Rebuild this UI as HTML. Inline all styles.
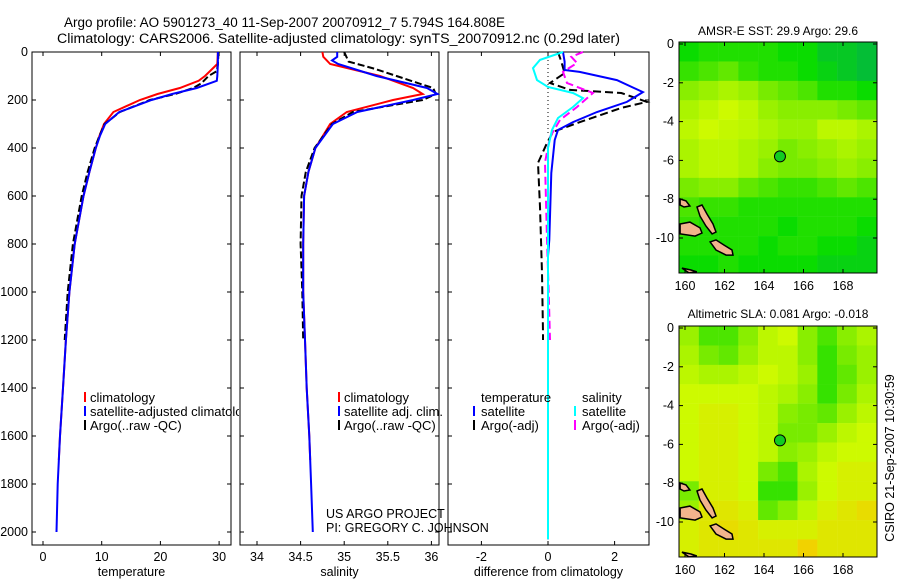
<!DOCTYPE html>
<html><head><meta charset="utf-8"><style>
html,body{margin:0;padding:0;background:#fff;width:900px;height:580px;overflow:hidden}
svg{display:block;font-family:"Liberation Sans",sans-serif}
</style></head><body>
<svg id="fig" width="900" height="580" viewBox="0 0 900 580" xmlns="http://www.w3.org/2000/svg">
<text x="64" y="27" font-size="13.5" textLength="441" lengthAdjust="spacingAndGlyphs">Argo profile: AO 5901273_40 11-Sep-2007 20070912_7 5.794S 164.808E</text>
<text x="57" y="43" font-size="13.5" textLength="563" lengthAdjust="spacingAndGlyphs">Climatology: CARS2006. Satellite-adjusted climatology: synTS_20070912.nc (0.29d later)</text>
<text x="778" y="35" font-size="12" text-anchor="middle">AMSR-E SST: 29.9 Argo: 29.6</text>
<text x="778" y="318" font-size="12" text-anchor="middle">Altimetric SLA: 0.081 Argo: -0.018</text>
<text transform="translate(894,458) rotate(-90)" font-size="12.5" text-anchor="middle">CSIRO 21-Sep-2007 10:30:59</text>
<text x="326" y="518" font-size="12.5">US ARGO PROJECT</text>
<text x="326" y="532" font-size="12.5">PI: GREGORY C. JOHNSON</text>
</svg>
<script>
// ---------- data ----------
const depthTicks=[0,200,400,600,800,1000,1200,1400,1600,1800,2000];
const tempTicks=[0,10,20,30];
const salTicks=[34,34.5,35,35.5,36];
const diffTicks=[-2,0,2];
const lonTicks=[160,162,164,166,168];
const latTicks=[0,-2,-4,-6,-8,-10];

const tClimDepth=[0,50,100,120,150,175,200,250,300,350,400,500,600,800,1000,1200,1400,1600,1700];
const tClimVal=[29.8,29.7,27.6,26.5,23.3,19.5,16.5,12,10.4,9.6,9,7.9,6.9,5.4,4.5,3.9,3.4,2.9,2.7];
const tSatDepth=[0,50,100,120,150,175,200,250,300,350,400,500,600,800,1000,1200,1400,1600,1800,2000];
const tSatVal=[29.8,29.8,29.7,29.6,26.2,22,18.5,13,10.6,9.7,9,7.9,6.9,5.4,4.5,3.9,3.4,2.9,2.5,2.3];
const tArgoDepth=[0,50,80,100,130,150,175,200,250,300,350,400,500,600,800,1000,1200];
const tArgoVal=[29.9,29.8,29.6,28.2,27,25.6,22.5,18.2,13.1,10.5,9.6,8.8,7.6,6.6,5.1,4.2,3.7];

const sClimDepth=[0,20,35,50,100,150,175,200,250,300,400,500,600,800,1000,1200,1400,1600,1700];
const sClimVal=[34.75,34.76,34.8,34.84,35.41,35.79,35.9,35.56,35.03,34.84,34.67,34.59,34.54,34.53,34.53,34.55,34.57,34.6,34.61];
const sSatDepth=[0,20,35,50,100,150,175,200,250,300,400,500,600,800,1000,1200,1400,1600,1800,2000];
const sSatVal=[34.92,34.92,34.86,34.93,35.37,35.95,36.07,35.79,35.15,34.87,34.67,34.59,34.54,34.53,34.53,34.55,34.57,34.6,34.62,34.64];
const sArgoDepth=[0,40,70,100,130,150,175,200,250,300,400,500,600,800,1000,1200];
const sArgoVal=[35.0,35.05,35.35,35.6,35.85,36.02,36.05,35.9,35.1,34.86,34.66,34.56,34.51,34.5,34.52,34.53];

const dTSatDepth=[0,40,75,83,117,167,208,250,292,325,367,504,783,850,2030];
const dTSatVal=[0.45,0.5,0.5,0.95,2.07,2.85,2.37,1.47,0.75,0.3,0.2,0.1,0.04,0,0];
const dSSatDepth=[0,33,67,117,146,171,192,229,275,325,400,2030];
const dSSatVal=[0.45,-0.24,-0.45,-0.33,0,0.75,1.05,0.75,0.3,0.12,0,0];
const dTArgoDepth=[0,40,88,129,158,171,208,233,292,333,379,462,646,921,1171,1200];
const dTArgoVal=[0.3,0.4,0.5,0.06,0.66,2.2,2.97,2.2,0.96,0.15,-0.03,-0.3,-0.24,-0.18,-0.15,-0.15];
const dSArgoDepth=[0,20,46,83,129,171,229,283,354,460,783,1000,1200];
const dSArgoVal=[1.05,0.7,0.87,0.45,0.57,1.35,0.87,0.36,0.06,-0.09,-0.03,0.02,0.06];

const sstGrid=[
[.25,.3,.3,.3,.3,.25,.25,.15,.15,.1],
[.35,.4,.45,.35,.3,.3,.25,.2,.15,.1],
[.55,.6,.65,.6,.5,.45,.4,.3,.3,.25],
[.65,.7,.75,.7,.6,.55,.55,.55,.5,.45],
[.7,.75,.72,.7,.65,.6,.6,.7,.7,.65],
[.65,.7,.7,.65,.6,.5,.55,.6,.65,.6],
[.65,.7,.7,.65,.55,.5,.5,.55,.6,.55],
[.5,.55,.55,.45,.4,.35,.35,.4,.45,.4],
[.4,.35,.35,.3,.3,.3,.3,.3,.3,.3],
[.35,.3,.3,.3,.3,.25,.3,.3,.3,.25],
[.3,.3,.3,.3,.25,.3,.3,.25,.25,.2],
[.25,.25,.3,.25,.25,.25,.25,.2,.2,.2]];
const slaGrid=[
[.6,.4,.4,.55,.7,.75,.55,.4,.55,.65],
[.65,.5,.45,.6,.7,.7,.55,.35,.5,.6],
[.7,.65,.65,.7,.75,.7,.6,.35,.45,.6],
[.75,.75,.75,.75,.7,.65,.55,.35,.5,.65],
[.75,.8,.8,.75,.7,.55,.5,.45,.6,.7],
[.75,.8,.8,.75,.7,.5,.5,.6,.7,.75],
[.75,.8,.8,.75,.7,.55,.6,.7,.75,.75],
[.75,.8,.8,.75,.5,.4,.65,.75,.8,.8],
[.5,.8,.8,.75,.35,.35,.6,.75,.8,.8],
[.6,.85,.85,.8,.45,.55,.7,.8,.85,.9],
[.8,.85,.9,.85,.8,.8,.8,.85,.85,.85],
[.8,.85,.85,.85,.85,.85,.95,.85,.85,.85]];
const floatLon=164.808, floatLat=-5.794;

// island outlines (lon/lat)
const islands=[
[[159.75,-7.99],[160.05,-8.09],[160.25,-8.35],[159.95,-8.4],[159.75,-8.3]],
[[159.75,-9.28],[160.25,-9.18],[160.76,-9.48],[160.86,-9.74],[160.51,-9.9],[159.75,-9.79]],
[[160.61,-8.4],[160.86,-8.3],[161.11,-8.76],[161.42,-9.28],[161.57,-9.69],[161.37,-9.79],[161.06,-9.38],[160.76,-8.87]],
[[161.27,-10.2],[161.57,-10.1],[161.97,-10.36],[162.38,-10.62],[162.43,-10.88],[162.08,-10.88],[161.57,-10.62]],
[[159.85,-11.55],[160.3,-11.65],[160.6,-11.75],[160.2,-11.8]]];

// ---------- helpers ----------
const NS='http://www.w3.org/2000/svg';
const svg=document.getElementById('fig');
function mk(tag,attrs,parent){const e=document.createElementNS(NS,tag);for(const k in attrs)e.setAttribute(k,attrs[k]);(parent||svg).appendChild(e);return e;}
const yTop=52,yBot=545,depthScale=0.24;
const yD=d=>yTop+d*depthScale;

function panel(name,x0,x1,vmin,pxPer,vzero,ticks,xlabel,showY){
  const g=mk('g',{});
  
  
  const xf=v=>vzero+(v-vmin)*pxPer;
  const cp=mk('clipPath',{id:name+'-clip'},g);mk('rect',{x:x0,y:0,width:x1-x0+8,height:580},cp);
  const fr=mk('rect',{x:x0,y:yTop,width:x1-x0,height:yBot-yTop,fill:'none',stroke:'#000','stroke-width':1},g);
  
  
  ticks.forEach(t=>{
    const x=xf(t);
    mk('line',{x1:x,x2:x,y1:yTop,y2:yTop+4,stroke:'#000'},g);
    mk('line',{x1:x,x2:x,y1:yBot,y2:yBot-4,stroke:'#000'},g);
    const tl=mk('text',{x:x,y:561,'font-size':12.5,'text-anchor':'middle'},g);
    tl.textContent=t;
    
    
  });
  depthTicks.forEach(d=>{
    const y=yD(d);
    mk('line',{x1:x0,x2:x0+4,y1:y,y2:y,stroke:'#000'},g);
    mk('line',{x1:x1,x2:x1-4,y1:y,y2:y,stroke:'#000'},g);
    if(showY){const tl=mk('text',{x:28,y:y+4,'font-size':12.5,'text-anchor':'end'},g);tl.textContent=d;
      
      }
  });
  const xl=mk('text',{x:(x0+x1)/2,y:576,'font-size':12.5,'text-anchor':'middle'},g);
  xl.textContent=xlabel;
  
  
  return {g,xf,clip:name+'-clip'};
}
function line(p,depths,vals,color,dash,name,w){
  const pts=depths.map((d,i)=>p.xf(vals[i]).toFixed(1)+','+yD(d).toFixed(1)).join(' ');
  const pl=mk('polyline',{points:pts,fill:'none',stroke:color,'stroke-width':w||2,'stroke-dasharray':dash||'none'},p.g);
  
  
}
function legend(entries,clip){
  entries.forEach(e=>{
    if(e.c){const b=mk('line',{x1:e.x,x2:e.x,y1:e.y-10,y2:e.y,stroke:e.c,'stroke-width':2});
      
      }
    const t=mk('text',{x:e.tx,y:e.y,'font-size':13});t.textContent=e.t;
    if(clip)t.setAttribute('clip-path','url(#'+clip+')');
    
    
  });
}

// ---------- profiles ----------
const pT=panel('temperature-panel',32,231,0,5.87,43,tempTicks,'temperature',true);
line(pT,tClimDepth,tClimVal,'#ff0000',null,'temp-climatology-line');
line(pT,tArgoDepth,tArgoVal,'#000',"7,3",'temp-argo-line');
line(pT,tSatDepth,tSatVal,'#0000ff',null,'temp-satellite-line');
legend([{x:85,tx:90,y:402,t:'climatology',c:'#ff0000'},{x:85,tx:90,y:416,t:'satellite-adjusted climatology',c:'#0000ff'},{x:85,tx:90,y:430,t:'Argo(..raw -QC)',c:'#000'}],pT.clip);

const pS=panel('salinity-panel',240,439,34,87.2,257,salTicks,'salinity',false);
line(pS,sClimDepth,sClimVal,'#ff0000',null,'sal-climatology-line');
line(pS,sArgoDepth,sArgoVal,'#000',"7,3",'sal-argo-line');
line(pS,sSatDepth,sSatVal,'#0000ff',null,'sal-satellite-line');
legend([{x:339,tx:344,y:402,t:'climatology',c:'#ff0000'},{x:339,tx:344,y:416,t:'satellite adj. clim.',c:'#0000ff'},{x:339,tx:344,y:430,t:'Argo(..raw -QC)',c:'#000'}]);

const pD=panel('difference-panel',448,649,0,33.3,548,diffTicks,'difference from climatology',false);
const zl=mk('line',{x1:548,x2:548,y1:yTop,y2:yD(350),stroke:'#000','stroke-dasharray':'1,3'},pD.g);


line(pD,dTArgoDepth,dTArgoVal,'#000',"8,4",'diff-temp-argo-line');
line(pD,dSArgoDepth,dSArgoVal,'#ff00ff',"8,4",'diff-sal-argo-line');
line(pD,dTSatDepth,dTSatVal,'#0000ff',null,'diff-temp-satellite-line');
line(pD,dSSatDepth,dSSatVal,'#00ffff',null,'diff-sal-satellite-line');
legend([{tx:481,y:402,t:'temperature'},{x:474,tx:481,y:416,t:'satellite',c:'#0000ff'},{x:474,tx:481,y:430,t:'Argo(-adj)',c:'#000'},
{tx:582,y:402,t:'salinity'},{x:575,tx:582,y:416,t:'satellite',c:'#00ffff'},{x:575,tx:582,y:430,t:'Argo(-adj)',c:'#ff00ff'}]);

// ---------- maps ----------
function cmap(v){
  const stops=[[0,[0,170,90]],[0.25,[10,220,0]],[0.5,[120,235,0]],[0.75,[205,250,0]],[1,[250,200,0]]];
  for(let i=1;i<stops.length;i++){if(v<=stops[i][0]){const a=stops[i-1],b=stops[i],f=(v-a[0])/(b[0]-a[0]);
    return 'rgb('+a[1].map((c,j)=>Math.round(c+(b[1][j]-c)*f)).join(',')+')';}}
  return 'rgb(250,200,0)';
}
function map(name,top,grid){
  const g=mk('g',{});
  
  
  const x0=679,x1=877,bot=top+231;
  const lonX=l=>685+(l-160)*19.75;
  const latY=l=>top+2-l*19.4;
  const cp=mk('clipPath',{id:name+'-clip'},g);mk('rect',{x:x0,y:top,width:x1-x0,height:bot-top},cp);
  const inner=mk('g',{'clip-path':'url(#'+name+'-clip)'},g);
  grid.forEach((row,r)=>row.forEach((v,c)=>{
    const lon=159.7+c, lat=0.1-r;
    const cell=mk('rect',{x:lonX(lon),y:latY(lat),width:19.9,height:19.6,fill:cmap(v)},inner);
    
    
  }));
  islands.forEach(isl=>{
    const p=mk('polygon',{points:isl.map(q=>lonX(q[0]).toFixed(1)+','+latY(q[1]).toFixed(1)).join(' '),fill:'#f2b48c',stroke:'#000','stroke-width':1.5},inner);
    
    
  });
  const dot=mk('circle',{cx:lonX(floatLon),cy:latY(floatLat),r:5.5,fill:'#11cc22',stroke:'#000','stroke-width':1},inner);
  
  
  const fr=mk('rect',{x:x0,y:top,width:x1-x0,height:bot-top,fill:'none',stroke:'#000'},g);
  
  
  lonTicks.forEach(l=>{const x=lonX(l);
    mk('line',{x1:x,x2:x,y1:top,y2:top+4,stroke:'#000'},g);mk('line',{x1:x,x2:x,y1:bot,y2:bot-4,stroke:'#000'},g);
    const t=mk('text',{x:x,y:bot+17,'font-size':12.5,'text-anchor':'middle'},g);t.textContent=l;
    
    });
  latTicks.forEach(l=>{const y=latY(l);
    mk('line',{x1:x0,x2:x0+4,y1:y,y2:y,stroke:'#000'},g);mk('line',{x1:x1,x2:x1-4,y1:y,y2:y,stroke:'#000'},g);
    const t=mk('text',{x:674,y:y+4,'font-size':12.5,'text-anchor':'end'},g);t.textContent=l;
    
    });
}
map('sst-map',42,sstGrid);
map('sla-map',326,slaGrid);
</script>
</body></html>
